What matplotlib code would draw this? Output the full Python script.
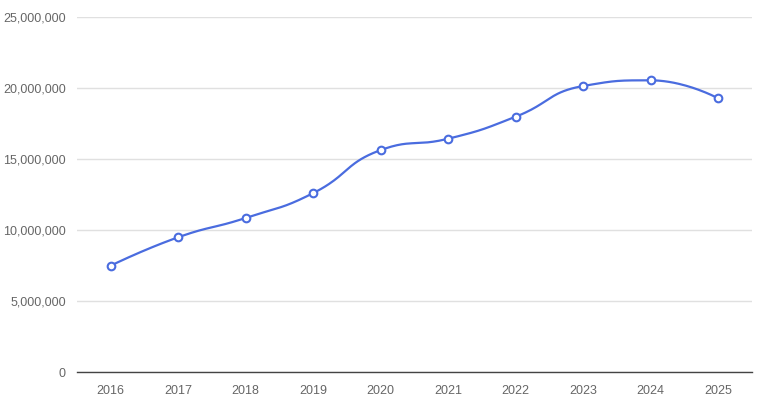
import numpy as np
import matplotlib
matplotlib.use("Agg")
from matplotlib import pyplot as plt
from matplotlib.ticker import FuncFormatter

years = ['2016', '2017', '2018', '2019', '2020', '2021', '2022', '2023', '2024', '2025']
values = [7490000, 9490000, 10850000, 12600000, 15630000, 16430000, 17980000, 20140000, 20540000, 19270000]
yticks = [0, 5000000, 10000000, 15000000, 20000000, 25000000]

line_color = '#4a6cdf'
text_color = '#666666'
grid_color = '#e0e0e0'

plt.rcParams['font.family'] = ['Liberation Sans', 'DejaVu Sans']

fig = plt.figure(figsize=(7.62, 4.11), dpi=100)
ax = fig.add_axes([77 / 762, 39 / 411, 675 / 762, 355 / 411])
ax.set_xlim(-0.5, len(years) - 0.5)
ax.set_ylim(0, 25000000)

x = np.arange(len(years))
y = np.array(values, dtype=float)


def clamp(c, a, b):
    return np.minimum(np.maximum(c, np.minimum(a, b)), np.maximum(a, b))


def smooth_curve(px, py, smooth=0.5, n=40):
    # bezier smoothing with extreme clamping (like echarts), in pixel space
    pts = np.column_stack([px, py])
    m = len(pts)
    cin = [p.copy() for p in pts]
    cout = [p.copy() for p in pts]
    for i in range(1, m - 1):
        p, prev, nxt = pts[i], pts[i - 1], pts[i + 1]
        v = nxt - prev
        lp = np.hypot(*(p - prev))
        ln = np.hypot(*(nxt - p))
        r = ln / (lp + ln)
        co = p + v * smooth * r
        co = clamp(co, p, nxt)
        ci = p - (co - p) * lp / ln
        ci = clamp(ci, prev, p)
        co = p + (p - ci) * ln / lp
        cin[i], cout[i] = ci, co
    t = np.linspace(0, 1, n)[1:, None]
    out = [pts[0]]
    for i in range(m - 1):
        p0, c1, c2, p3 = pts[i], cout[i], cin[i + 1], pts[i + 1]
        seg = (1 - t) ** 3 * p0 + 3 * (1 - t) ** 2 * t * c1 + 3 * (1 - t) * t ** 2 * c2 + t ** 3 * p3
        out.extend(seg)
    return np.array(out)


disp = ax.transData.transform(np.column_stack([x, y]))
curve = smooth_curve(disp[:, 0], disp[:, 1])
curve_data = ax.transData.inverted().transform(curve)
ax.plot(curve_data[:, 0], curve_data[:, 1], color=line_color, lw=1.6, solid_capstyle='round', zorder=3)
ax.plot(x, y, 'o', ms=5.5, mfc='white', mec=line_color, mew=1.5, zorder=4)

ax.set_yticks(yticks)
ax.yaxis.set_major_formatter(FuncFormatter(lambda v, p: f'{int(v):,}'))
ax.set_xticks(x)
ax.set_xticklabels(years)
ax.grid(axis='y', color=grid_color, lw=1)
ax.set_axisbelow(True)
for s in ['top', 'right', 'left']:
    ax.spines[s].set_visible(False)
ax.spines['bottom'].set_color('#444444')
ax.spines['bottom'].set_linewidth(1)
ax.tick_params(axis='both', length=0, colors=text_color, labelsize=9)
ax.tick_params(axis='y', pad=8)
ax.tick_params(axis='x', pad=9)

plt.savefig('out.png', dpi=100)
